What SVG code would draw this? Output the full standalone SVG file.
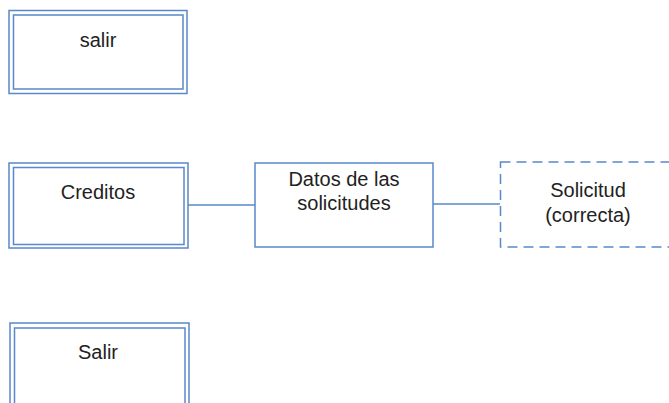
<svg xmlns="http://www.w3.org/2000/svg" width="669" height="403" viewBox="0 0 669 403">
<style>
.b{fill:none;stroke:#5a88cc;stroke-width:1.5}
.d{fill:none;stroke:#5a88cc;stroke-width:1.5;stroke-dasharray:10 6}
.c{fill:none;stroke:#5a88cc;stroke-width:1.3}
text{font-family:"Liberation Sans",Arial,sans-serif;font-size:20px;fill:#222;text-anchor:middle}
</style>
<rect width="669" height="403" fill="#fff"/>
<g id="connectors">
<line class="c" x1="188" y1="205" x2="255" y2="205"/>
<line class="c" x1="433" y1="204" x2="500" y2="204"/>
</g>
<g id="salir1">
<rect class="b" x="9" y="10.5" width="178" height="83"/>
<rect class="b" x="13.5" y="15" width="169.5" height="74"/>
<text x="98" y="47">salir</text>
</g>
<g id="creditos">
<rect class="b" x="9" y="163" width="179" height="85"/>
<rect class="b" x="13.5" y="167.5" width="170.5" height="77"/>
<text x="98" y="199">Creditos</text>
</g>
<g id="datos">
<rect class="b" x="255" y="163" width="178" height="84"/>
<text x="344" y="186">Datos de las</text>
<text x="344" y="210">solicitudes</text>
</g>
<g id="solicitud">
<rect class="d" x="500.5" y="162" width="190" height="85"/>
<text x="588" y="197">Solicitud</text>
<text x="588" y="222">(correcta)</text>
</g>
<g id="salir2">
<rect class="b" x="10" y="323" width="179" height="100"/>
<rect class="b" x="14.5" y="328" width="170.5" height="90"/>
<text x="98" y="359">Salir</text>
</g>
</svg>
